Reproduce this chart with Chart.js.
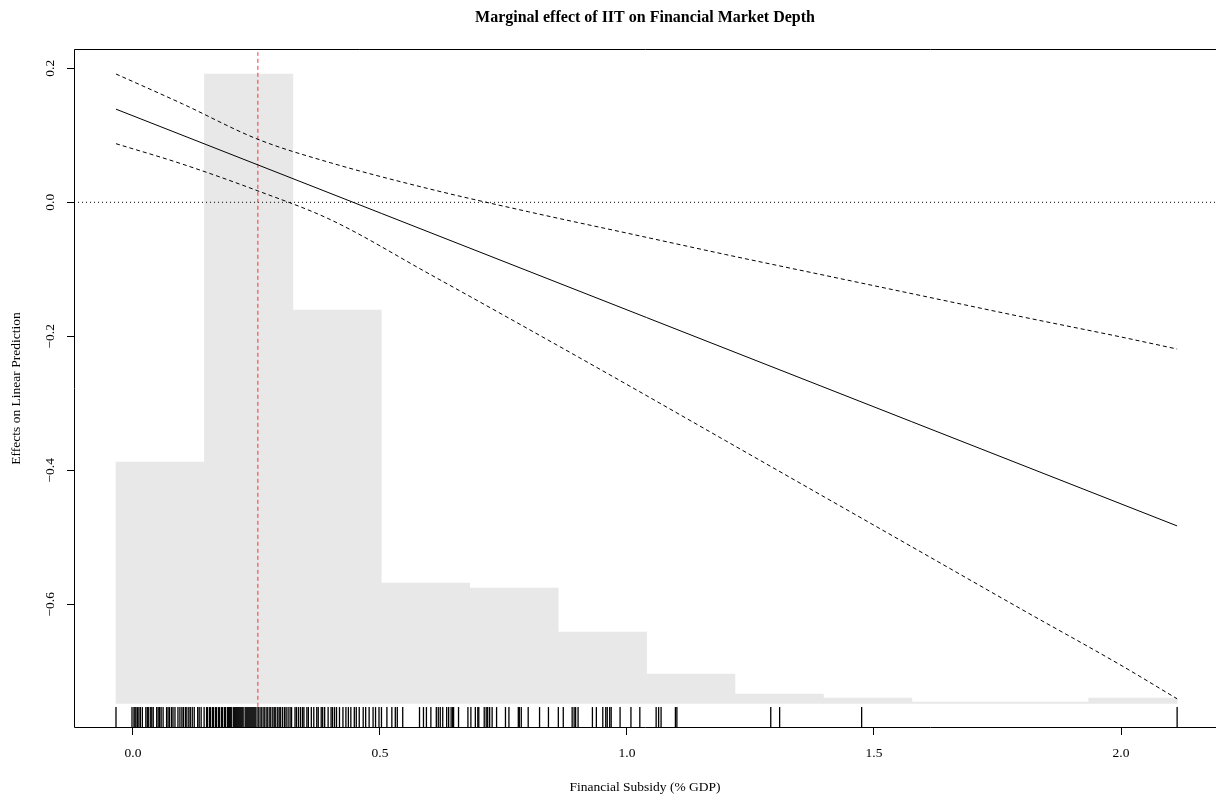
<!DOCTYPE html>
<html>
<head>
<meta charset="utf-8">
<script src="https://cdn.jsdelivr.net/npm/chart.js@4.4.0/dist/chart.umd.min.js"></script>
<style>
  body { margin: 0; background: #fff; overflow: hidden; }
  #wrap { width: 1216px; height: 799px; }
</style>
</head>
<body>
<div id="wrap"><canvas id="chart-me" width="1216" height="799"></canvas></div>
<script>
// axes
var xTicks = [0, 0.5, 1, 1.5, 2]
var yTicks = [-0.6, -0.4, -0.2, 0, 0.2]
var xLimits = [-0.1194, 2.1923]
var yLimits = [-0.7846, 0.2288]

// histogram of the moderator, drawn in the y units of the plot
var binCenters = [0.0551, 0.2341, 0.4131, 0.5921, 0.7711, 0.9501, 1.1291, 1.3081, 1.4871, 1.6661, 1.8451, 2.0241]
var binTops = [-0.3876, 0.1915, -0.1607, -0.5682, -0.5757, -0.6413, -0.704, -0.7339, -0.7399, -0.7458, -0.7458, -0.7399]
var binBase = -0.7478

// marginal effect and its confidence band
var meX = [-0.0344, 2.1136]
var meY = [0.139, -0.483]
var ciX = [-0.0344, 0.1, 0.253, 0.4, 0.6, 0.8, 1.0, 1.2, 1.4, 1.6, 1.8, 2.0, 2.1136]
var ciUpper = [0.1915, 0.147, 0.094, 0.059, 0.020, -0.014, -0.046, -0.078, -0.109, -0.140, -0.171, -0.201, -0.219]
var ciLower = [0.0875, 0.057, 0.017, -0.026, -0.107, -0.189, -0.272, -0.356, -0.440, -0.524, -0.608, -0.691, -0.741]

// reference lines
var zeroY = 0
var meanX = 0.2528
var meanSpan = [-0.753, 0.224]

// rug of observed moderator values
var rugLevel = -0.769
var rugX = [-0.0344, -0.002, 0.002,
  0.004, 0.006, 0.009, 0.012, 0.015, 0.019, 0.026, 0.029, 0.031, 0.035, 0.038, 0.041, 0.048, 0.051,
  0.054, 0.057, 0.061, 0.068, 0.071, 0.074, 0.078, 0.081, 0.085, 0.091, 0.095, 0.099, 0.102, 0.106,
  0.109, 0.113, 0.116, 0.120, 0.124, 0.131, 0.134, 0.138, 0.144,
  0.149, 0.151, 0.155, 0.157, 0.161, 0.163, 0.167, 0.169, 0.173, 0.175, 0.179, 0.181, 0.185, 0.187,
  0.191, 0.193, 0.195, 0.197, 0.199, 0.203, 0.205, 0.207, 0.209, 0.211, 0.213, 0.215, 0.217, 0.219,
  0.221, 0.223, 0.227, 0.229, 0.231, 0.233, 0.235, 0.237, 0.239, 0.241, 0.243, 0.245, 0.247, 0.249,
  0.253, 0.255, 0.259, 0.261, 0.265, 0.267, 0.271, 0.273, 0.277, 0.279, 0.283, 0.286, 0.289, 0.293,
  0.296, 0.299, 0.303, 0.307, 0.310, 0.314, 0.318, 0.321,
  0.328, 0.331, 0.335, 0.339, 0.343, 0.346, 0.352, 0.355, 0.361, 0.366, 0.372, 0.375, 0.381, 0.384,
  0.388, 0.395, 0.401, 0.404, 0.408, 0.412, 0.418, 0.425, 0.431, 0.436, 0.441, 0.448, 0.452, 0.458,
  0.466, 0.471, 0.478, 0.486, 0.491, 0.498, 0.503,
  0.514, 0.524, 0.531, 0.535, 0.546, 0.580, 0.588, 0.594, 0.603, 0.614, 0.618, 0.622, 0.627, 0.635,
  0.639, 0.644, 0.647, 0.649, 0.659, 0.678, 0.684, 0.693, 0.698, 0.700, 0.711, 0.715, 0.718, 0.722,
  0.727, 0.736, 0.754, 0.761, 0.780, 0.782, 0.786, 0.800, 0.823, 0.841, 0.861, 0.871, 0.889, 0.893,
  0.896, 0.901, 0.930, 0.938, 0.951, 0.957, 0.960, 0.965, 0.968, 0.986, 1.008, 1.026, 1.059, 1.064,
  1.069, 1.098, 1.101, 1.291, 1.309, 1.475, 2.1136]

var serif = "'Liberation Serif', 'Times New Roman', serif"

function xy(xs, ys) {
  return xs.map(function (x, i) { return {x: x, y: ys[i]} })
}

// R style box round the plot region; its right side is cut off in the picture
var boxPlugin = {
  id: 'plotBox',
  afterDraw: function (chart) {
    var a = chart.chartArea
    var ctx = chart.ctx
    var l = Math.round(a.left) + 0.5
    var t = Math.round(a.top) + 0.5
    var b = Math.round(a.bottom) - 0.5
    ctx.save()
    ctx.strokeStyle = '#000'
    ctx.lineWidth = 1
    ctx.beginPath()
    ctx.moveTo(a.right, t)
    ctx.lineTo(l, t)
    ctx.lineTo(l, b)
    ctx.lineTo(a.right, b)
    ctx.stroke()
    ctx.restore()
  }
}

new Chart(document.getElementById("chart-me"), {
  type: 'scatter',
  data: {
    datasets: [{
      type: 'bar',
      label: 'histogram',
      data: binCenters.map(function (c, i) { return {x: c, y: [binBase, binTops[i]]} }),
      backgroundColor: '#e8e8e8',
      borderWidth: 0,
      barPercentage: 1,
      categoryPercentage: 1,
      order: 10
    }, {
      type: 'scatter',
      label: 'rug',
      data: rugX.map(function (x) { return {x: x, y: rugLevel} }),
      pointStyle: 'line',
      pointRotation: 90,
      pointRadius: 10.5,
      pointHoverRadius: 10.5,
      pointBorderColor: '#000',
      pointBorderWidth: 1.3,
      order: 5
    }, {
      type: 'line',
      label: 'zero',
      data: [{x: xLimits[0], y: zeroY}, {x: xLimits[1], y: zeroY}],
      borderColor: '#000',
      borderWidth: 1,
      borderDash: [1, 3],
      pointRadius: 0,
      order: 4
    }, {
      type: 'line',
      label: 'mean',
      data: [{x: meanX, y: meanSpan[0]}, {x: meanX, y: meanSpan[1]}],
      borderColor: '#ff3333',
      borderWidth: 1,
      borderDash: [4, 3],
      pointRadius: 0,
      order: 3
    }, {
      type: 'line',
      label: 'upper',
      data: xy(ciX, ciUpper),
      borderColor: '#000',
      borderWidth: 1,
      borderDash: [4, 3],
      cubicInterpolationMode: 'monotone',
      pointRadius: 0,
      order: 2
    }, {
      type: 'line',
      label: 'lower',
      data: xy(ciX, ciLower),
      borderColor: '#000',
      borderWidth: 1,
      borderDash: [4, 3],
      cubicInterpolationMode: 'monotone',
      pointRadius: 0,
      order: 2
    }, {
      type: 'line',
      label: 'effect',
      data: xy(meX, meY),
      borderColor: '#000',
      borderWidth: 1,
      pointRadius: 0,
      order: 1
    }]
  },
  options: {
    responsive: false,
    animation: false,
    devicePixelRatio: 1,
    events: [],
    layout: { autoPadding: false, padding: { left: 0, right: 0, top: 0, bottom: 0 } },
    plugins: {
      legend: { display: false },
      tooltip: { enabled: false },
      title: {
        display: true,
        fullSize: false,
        text: 'Marginal effect of IIT on Financial Market Depth',
        color: '#000',
        font: { family: serif, size: 16, weight: 'bold', lineHeight: 1.2 },
        padding: { top: 8.4, bottom: 21.4 }
      }
    },
    scales: {
      x: {
        type: 'linear',
        min: xLimits[0],
        max: xLimits[1],
        offset: false,
        afterBuildTicks: function (s) { s.ticks = xTicks.map(function (v) { return {value: v} }) },
        afterFit: function (s) { s.height = 71; s.paddingLeft = 0; s.paddingRight = 0 },
        border: { display: false },
        grid: { display: true, offset: false, drawOnChartArea: false, tickLength: 7, tickColor: '#000' },
        ticks: {
          color: '#000',
          padding: 10,
          maxRotation: 0,
          font: { family: serif, size: 13.5 },
          callback: function (v) { return v.toFixed(1) }
        },
        title: {
          display: true,
          text: 'Financial Subsidy (% GDP)',
          color: '#000',
          font: { family: serif, size: 13.5, lineHeight: 1.2 },
          padding: { top: 0, bottom: 3.9 }
        }
      },
      y: {
        type: 'linear',
        min: yLimits[0],
        max: yLimits[1],
        afterBuildTicks: function (s) { s.ticks = yTicks.map(function (v) { return {value: v} }) },
        afterFit: function (s) { s.width = 74; s.paddingTop = 0; s.paddingBottom = 0 },
        border: { display: false },
        grid: { display: true, drawOnChartArea: false, tickLength: 7, tickColor: '#000' },
        ticks: {
          color: '#000',
          padding: 4.3,
          minRotation: 90,
          maxRotation: 90,
          crossAlign: 'center',
          font: { family: serif, size: 13.5 },
          callback: function (v) { return v.toFixed(1).replace('-', '\u2212') }
        },
        title: {
          display: true,
          text: 'Effects on Linear Prediction',
          color: '#000',
          font: { family: serif, size: 13.5, lineHeight: 1.2 },
          padding: { top: 8, bottom: 0 }
        }
      }
    }
  },
  plugins: [boxPlugin]
});
</script>
</body>
</html>
